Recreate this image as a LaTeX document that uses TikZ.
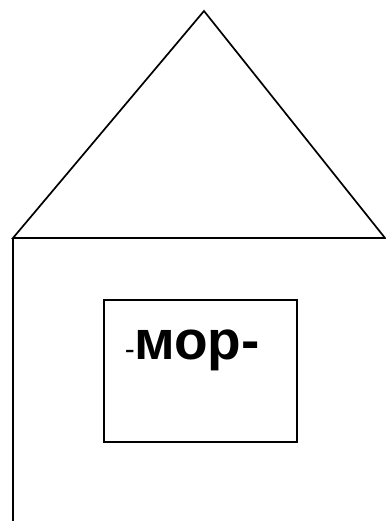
\documentclass[tikz,border=0pt]{standalone}
\usepackage{fontspec}
\setmainfont{Liberation Sans}
\usepackage{tikz}
\usetikzlibrary{positioning}

\begin{document}
\begin{tikzpicture}[
    x=1pt, y=-1pt,
    wall/.style={draw=black, line width=1.7pt},
    window/.style={rectangle, draw=black, line width=1.7pt, minimum width=193pt, minimum height=142pt, inner sep=0pt},
    syllable/.style={font=\fontsize{55}{55}\selectfont\bfseries, inner sep=0pt, anchor=base west},
    hyphen/.style={font=\fontsize{30}{30}\selectfont, inner sep=0pt, anchor=base east}
]
\useasboundingbox (0,0) rectangle (385,521);

% Roof
\coordinate (apex) at (204,11);
\coordinate (eaveleft) at (13,238);
\coordinate (eaveright) at (385,238);
\coordinate (ground) at (13,521);
\draw[wall] (eaveleft) -- (apex) -- (eaveright) -- cycle;

% Wall
\draw[wall] (eaveleft) -- (ground);

% Window
\node[window] (pane) at (200.5,371) {};

% Word part
\node[syllable] (word) at (134,359) {мор-};
\node[hyphen] (prefix) at ([xshift=1pt]word.base west) {-};
\end{tikzpicture}
\end{document}
